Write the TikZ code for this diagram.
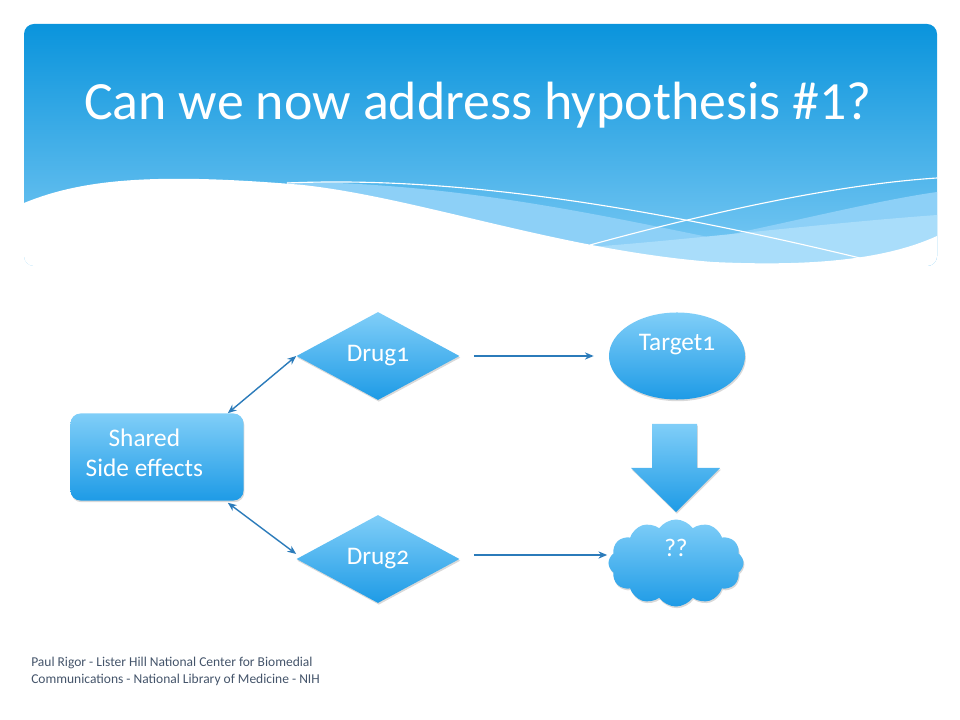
\documentclass[tikz,border=0pt]{standalone}
\usepackage{fontspec}
\setmainfont{Carlito}
\newfontfamily\boxfont[Numbers=OldStyle]{Carlito}
\usetikzlibrary{arrows.meta,shapes.geometric,shapes.symbols,shadows,calc}
\definecolor{hdtop}{HTML}{0A94DC}
\definecolor{hdbot}{HTML}{7CCAF4}
\definecolor{bandA}{HTML}{8DD0F7}
\definecolor{bandB}{HTML}{A9DDFA}
\definecolor{boxtop}{HTML}{80CEF8}
\definecolor{boxbot}{HTML}{1E9BE6}
\definecolor{linkblue}{HTML}{2B7BBA}
\definecolor{foot}{HTML}{44546A}
\tikzset{
  shapebox/.style={top color=boxtop,bottom color=boxbot,draw=none,text=white,
    font=\boxfont\fontsize{18}{21}\selectfont,
    drop shadow={shadow xshift=0.6pt,shadow yshift=-1.2pt,opacity=0.3}},
  sidebox/.style={shapebox,rectangle,rounded corners=0.25cm,minimum width=4.325cm,minimum height=2.175cm,align=center},
  drugbox/.style={shapebox,diamond,minimum width=4.075cm,minimum height=2.2cm,inner sep=0pt},
  targetbox/.style={shapebox,ellipse,minimum width=3.4cm,minimum height=2.175cm,inner sep=0pt},
  cloudbox/.style={shapebox,cloud,cloud puffs=12,cloud puff arc=110,aspect=1.55,minimum width=3.375cm,minimum height=2.175cm,inner sep=0pt},
  link/.style={-{Stealth[length=2.2mm,width=1.8mm]},line width=1pt,linkblue},
  dlink/.style={{Stealth[length=2.2mm,width=1.8mm]}-{Stealth[length=2.2mm,width=1.8mm]},line width=1pt,linkblue},
  waveline/.style={white,line width=0.8pt}
}
\begin{document}
\begin{tikzpicture}[x=0.025cm,y=-0.025cm]
  \useasboundingbox (0,0) rectangle (960,720);
  \shade[top color=hdtop,bottom color=hdbot,rounded corners=0.25cm] (24,24) rectangle (937,266);
  \begin{scope}
    \clip[rounded corners=0.25cm] (24,24) rectangle (937,266);
    \fill[bandA] (287,182) .. controls (450,182) and (600,215) .. (713,238) .. controls (800,220) and (880,200) .. (937,192) -- (937,270) -- (287,270) -- cycle;
    \fill[bandB] (540,250) .. controls (650,245) and (800,225) .. (937,215) -- (937,270) -- (540,270) -- cycle;
    \draw[waveline] (287,183) .. controls (450,176) and (640,205) .. (860,258);
    \draw[waveline] (590,245) .. controls (700,215) and (830,185) .. (937,178);
    \fill[white] (24,203) .. controls (80,180) and (150,172) .. (303,185) .. controls (420,198) and (560,250) .. (713,262) .. controls (800,266) and (880,262) .. (937,236) -- (937,270) -- (24,270) -- cycle;
  \end{scope}
  \node[font=\fontsize{38.3}{44}\selectfont,text=white] (title) at (478,105) {Can we now address hypothesis \#1?};

  \node[sidebox,text depth=6pt] (side) at (157,457) {Shared\hspace*{18pt}\\Side effects\hspace*{18pt}};
  \node[drugbox] (d1) at (378,356) {Drug1};
  \node[drugbox] (d2) at (378,559) {Drug2};
  \node[targetbox,text depth=20pt] (t1) at (677,356) {Target1};
  \node[cloudbox,text depth=21pt] (q) at (676,563) {??};
  \shade[top color=boxtop,bottom color=boxbot,drop shadow={shadow xshift=0.6pt,shadow yshift=-1.2pt,opacity=0.3}]
    (652,424) -- (697,424) -- (697,468) -- (720,468) -- (676,512) -- (631,468) -- (652,468) -- cycle;

  \draw[link,shorten <=0.35cm,shorten >=0.375cm] (d1.east) -- (t1.west);
  \draw[link] ($(d2.east)+(14,-4)$) -- ($(q.west)+(-1,-8)$);
  \draw[dlink] ($(side.north east)+(-16,0)$) -- (d1.west);
  \draw[dlink] ($(side.south east)+(-16,2)$) -- ($(d2.west)+(0,-5)$);

  \node[anchor=north west,align=left,text=foot,font=\fontsize{9.6}{12}\selectfont,inner sep=0pt] (credit) at (31,657)
    {Paul Rigor - Lister Hill National Center for Biomedial\\Communications - National Library of Medicine - NIH};
\end{tikzpicture}
\end{document}
